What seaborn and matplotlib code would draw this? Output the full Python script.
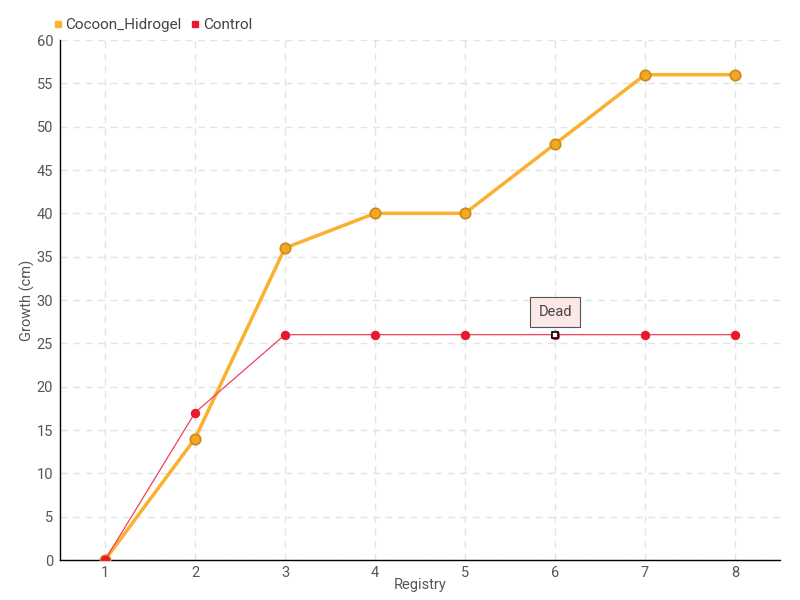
import matplotlib
matplotlib.use("Agg")
import matplotlib.pyplot as plt
import seaborn as sns
import pandas as pd
from matplotlib.lines import Line2D

registry = [1, 2, 3, 4, 5, 6, 7, 8]
cocoon = [0, 14, 36, 40, 40, 48, 56, 56]
control = [0, 17, 26, 26, 26, 26, 26, 26]
y_ticks = list(range(0, 61, 5))

sns.set_theme(style="white")
plt.rcParams['font.family'] = ['Roboto', 'DejaVu Sans']

df = pd.DataFrame({"Registry": registry * 2,
                   "Growth": cocoon + control,
                   "Series": ["Cocoon_Hidrogel"] * 8 + ["Control"] * 8})

fig = plt.figure(figsize=(8, 6), dpi=100)
ax = fig.add_axes([60/800, 40/600, 720/800, 520/600])

c_red = "#e8192c"
txt = "#555555"

sns.lineplot(data=df[df.Series == "Cocoon_Hidrogel"], x="Registry", y="Growth",
             ax=ax, color="#fbb030", linewidth=2.5, marker="o", markersize=7.5,
             markerfacecolor="#f5a623", markeredgecolor="#c98a1a", markeredgewidth=1.2,
             label="Cocoon_Hidrogel", legend=False, zorder=3)
sns.lineplot(data=df[df.Series == "Control"], x="Registry", y="Growth",
             ax=ax, color="#f0405a", linewidth=0.9, marker="o", markersize=6,
             markerfacecolor=c_red, markeredgecolor=c_red,
             label="Control", legend=False, zorder=4)

# Dead marker
ax.plot([registry[5]], [control[5]], marker="s", markersize=5, markerfacecolor="white",
        markeredgecolor="black", markeredgewidth=1.2, zorder=6)
ax.annotate("Dead", xy=(registry[5], control[5]), xytext=(0, 16), textcoords="offset points",
            ha="center", va="center", fontsize=10.5, color="#444444",
            bbox=dict(boxstyle="square,pad=0.55", fc="#fde8e8", ec="#555555", lw=0.8),
            arrowprops=dict(arrowstyle="-", color="#555555", lw=0.8), zorder=7)

ax.set_xlim(0.5, 8.5)
ax.set_ylim(0, 60)
ax.set_xticks(registry)
ax.set_yticks(y_ticks)
ax.grid(True, color="#e3e3e3", linestyle=(0, (5, 4)), linewidth=1)
for s in ["top", "right"]:
    ax.spines[s].set_visible(False)
for s in ["left", "bottom"]:
    ax.spines[s].set_color("black")
    ax.spines[s].set_linewidth(1)
ax.tick_params(axis="both", labelcolor=txt, labelsize=10.5, length=4, width=1,
               direction="out", color="black", pad=1)
ax.tick_params(axis="x", pad=0)
ax.set_xlabel("Registry", fontsize=10.5, color=txt, labelpad=-1)
ax.set_ylabel("Growth (cm)", fontsize=10.5, color=txt, labelpad=1)

handles = [Line2D([], [], linestyle="none", marker="s", markersize=5, color="#f9b42d"),
           Line2D([], [], linestyle="none", marker="s", markersize=5, color=c_red)]
fig.legend(handles, ["Cocoon_Hidrogel", "Control"], loc="upper left",
           bbox_to_anchor=(44/800, 1 - 12/600), ncol=2, frameon=False,
           fontsize=11, handletextpad=0.0, columnspacing=0.4, handlelength=1.0,
           labelcolor="#444444", borderaxespad=0)

fig.savefig("out.png", dpi=100)
